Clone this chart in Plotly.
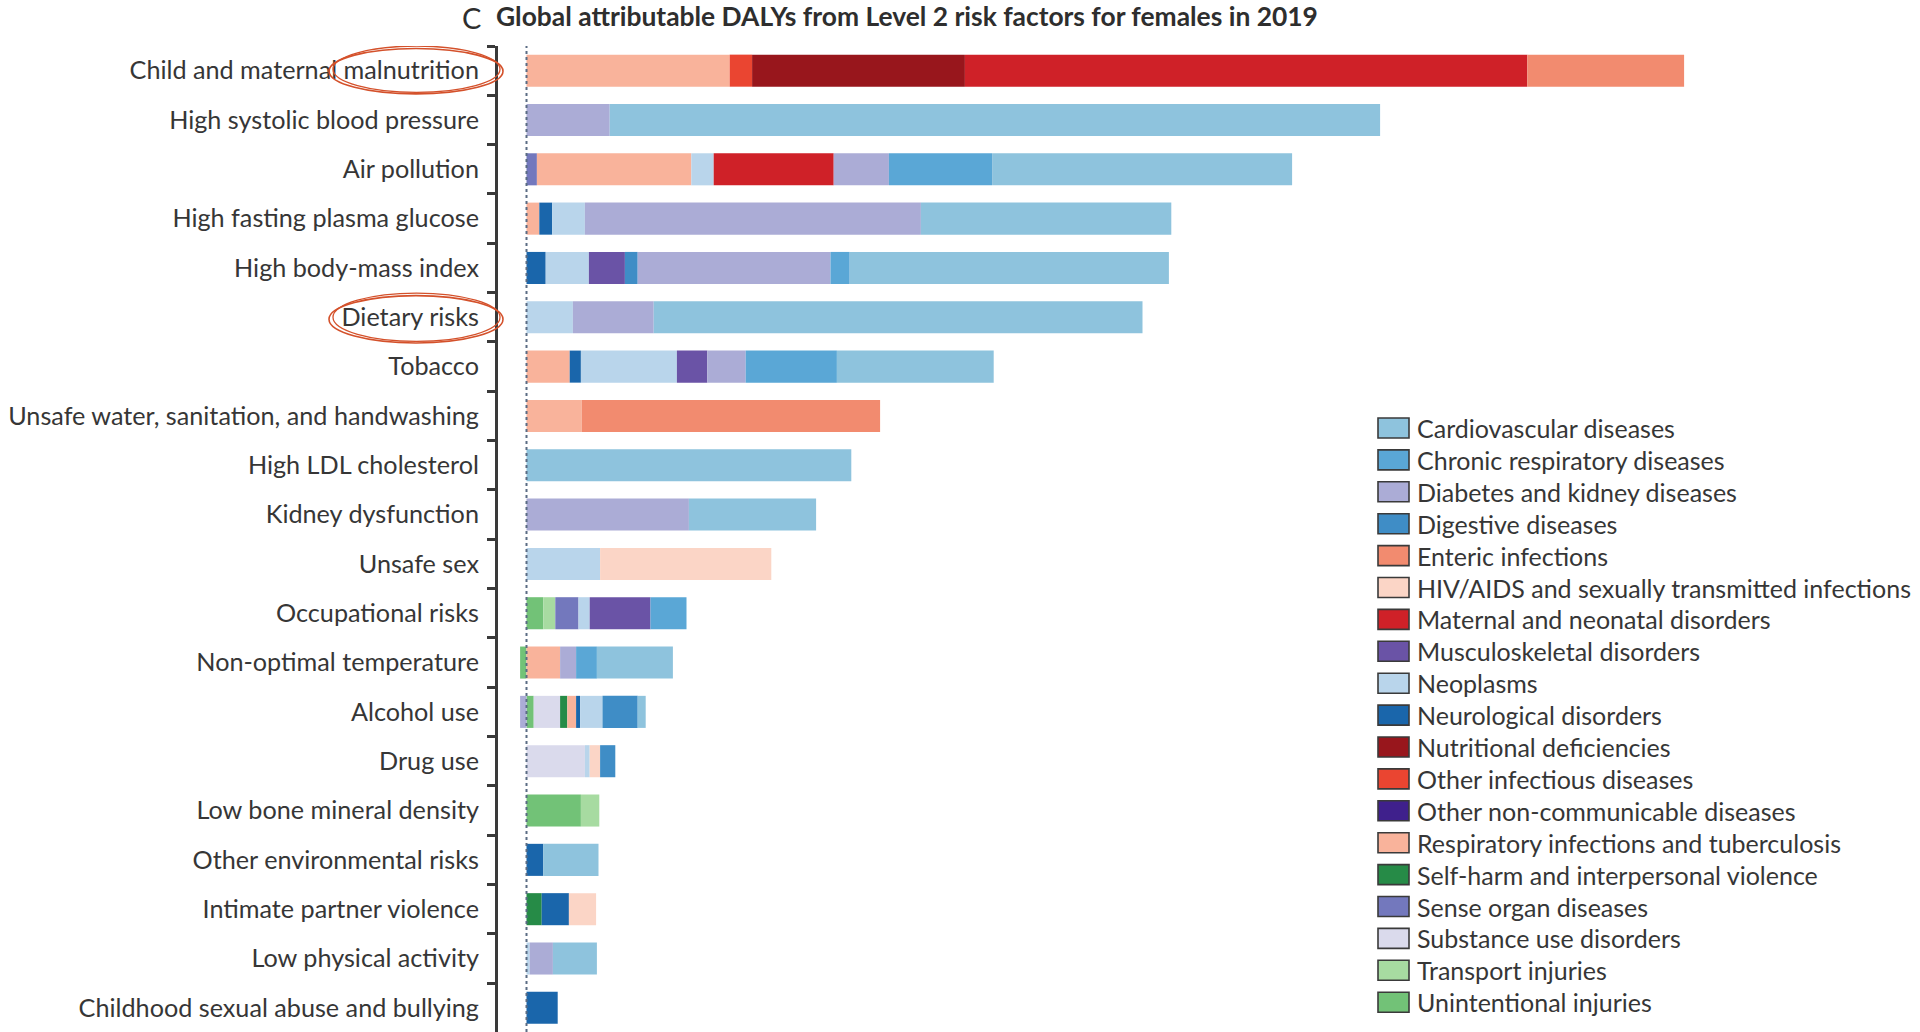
import plotly.graph_objects as go

# ---------------- data (million DALYs) ----------------
risks = [
    "Child and maternal malnutrition",
    "High systolic blood pressure",
    "Air pollution",
    "High fasting plasma glucose",
    "High body-mass index",
    "Dietary risks",
    "Tobacco",
    "Unsafe water, sanitation, and handwashing",
    "High LDL cholesterol",
    "Kidney dysfunction",
    "Unsafe sex",
    "Occupational risks",
    "Non-optimal temperature",
    "Alcohol use",
    "Drug use",
    "Low bone mineral density",
    "Other environmental risks",
    "Intimate partner violence",
    "Low physical activity",
    "Childhood sexual abuse and bullying",
]

cardiovascular = [0, 96.3, 37.5, 31.3, 39.9, 61.1, 19.6, 0, 40.6, 15.9, 0, 0, 9.5, 1.0, 0, 0, 6.9, 0, 5.5, 0]
chronic_respiratory = [0, 0, 12.9, 0, 2.4, 0, 11.4, 0, 0, 0, 0, 4.5, 2.6, 0, 0, 0, 0, 0, 0, 0]
diabetes_kidney = [0, 10.4, 6.9, 42.0, 24.1, 10.1, 4.8, 0, 0, 20.3, 0, 0, 2.0, -0.8, 0, 0, 0, 0, 2.9, 0]
digestive = [0, 0, 0, 0, 1.6, 0, 0, 0, 0, 0, 0, 0, 0, 4.4, 1.9, 0, 0, 0, 0, 0]
enteric = [19.6, 0, 0, 0, 0, 0, 0, 37.3, 0, 0, 0, 0, 0, 0, 0, 0, 0, 0, 0, 0]
hiv_sti = [0, 0, 0, 0, 0, 0, 0, 0, 0, 0, 21.4, 0, 0, 0, 1.3, 0, 0, 3.4, 0, 0]
maternal_neonatal = [70.3, 0, 15.0, 0, 0, 0, 0, 0, 0, 0, 0, 0, 0, 0, 0, 0, 0, 0, 0, 0]
musculoskeletal = [0, 0, 0, 0, 4.5, 0, 3.8, 0, 0, 0, 0, 7.6, 0, 0, 0, 0, 0, 0, 0, 0]
neoplasms = [0, 0, 2.8, 4.1, 5.4, 5.8, 12.0, 0, 0, 0, 9.2, 1.4, 0, 2.8, 0.6, 0, 0, 0, 0.4, 0]
neurological = [0, 0, 0, 1.6, 2.4, 0, 1.4, 0, 0, 0, 0, 0, 0, 0.5, 0, 0, 2.1, 3.4, 0, 3.9]
nutritional = [26.6, 0, 0, 0, 0, 0, 0, 0, 0, 0, 0, 0, 0, 0, 0, 0, 0, 0, 0, 0]
other_infectious = [2.8, 0, 0, 0, 0, 0, 0, 0, 0, 0, 0, 0, 0, 0, 0, 0, 0, 0, 0, 0]
other_ncd = [0, 0, 0, 0, 0, 0, 0, 0, 0, 0, 0, 0, 0, 0, 0, 0, 0, 0, 0, 0]
respiratory_tb = [25.4, 0, 19.3, 1.6, 0, 0, 5.4, 6.9, 0, 0, 0, 0, 4.2, 1.1, 0, 0, 0, 0, 0, 0]
self_harm = [0, 0, 0, 0, 0, 0, 0, 0, 0, 0, 0, 0, 0, 0.9, 0, 0, 0, 1.9, 0, 0]
sense_organ = [0, 0, 1.3, 0, 0, 0, 0, 0, 0, 0, 0, 2.9, 0, 0, 0, 0, 0, 0, 0, 0]
substance_use = [0, 0, 0, 0, 0, 0, 0, 0, 0, 0, 0, 0, 0, 3.3, 7.3, 0, 0, 0, 0, 0]
transport = [0, 0, 0, 0, 0, 0, 0, 0, 0, 0, 0, 1.5, 0, 0, 0, 2.3, 0, 0, 0, 0]
unintentional = [0, 0, 0, 0, 0, 0, 0, 0, 0, 0, 0, 2.1, -0.8, 0.9, 0, 6.8, 0, 0, 0, 0]

cause_names = [
    "Cardiovascular diseases",
    "Chronic respiratory diseases",
    "Diabetes and kidney diseases",
    "Digestive diseases",
    "Enteric infections",
    "HIV/AIDS and sexually transmitted infections",
    "Maternal and neonatal disorders",
    "Musculoskeletal disorders",
    "Neoplasms",
    "Neurological disorders",
    "Nutritional deficiencies",
    "Other infectious diseases",
    "Other non-communicable diseases",
    "Respiratory infections and tuberculosis",
    "Self-harm and interpersonal violence",
    "Sense organ diseases",
    "Substance use disorders",
    "Transport injuries",
    "Unintentional injuries",
]
cause_values = [
    cardiovascular, chronic_respiratory, diabetes_kidney, digestive, enteric,
    hiv_sti, maternal_neonatal, musculoskeletal, neoplasms, neurological,
    nutritional, other_infectious, other_ncd, respiratory_tb, self_harm,
    sense_organ, substance_use, transport, unintentional,
]
cause_colors = [
    "#8EC3DD", "#5AA7D6", "#ABACD6", "#3F8DC6", "#F28B6F",
    "#FBD5C6", "#CF2128", "#6A53A6", "#B9D5EB", "#1A66AB",
    "#98161C", "#EA4531", "#3F208C", "#F9B39B", "#268B47",
    "#7378BD", "#DADAEC", "#A7DBA1", "#72C277",
]

# ---------------- layout geometry (pixels) ----------------
W, H = 1920, 1032
PL, PR, PT, PB = 498, 1900, 46, 1032
PX_PER_UNIT = 8.0
ZERO_PX = 526.5


def px_x(px):
    return (px - PL) / (PR - PL)


def px_y(py):
    return (PB - py) / (PB - PT)


FONT = "Lato"
TXT = "#363636"

fig = go.Figure()
# stacking order: reverse of legend order (Unintentional leftmost ... CVD rightmost)
for name, vals, col in reversed(list(zip(cause_names, cause_values, cause_colors))):
    fig.add_trace(go.Bar(
        y=risks, x=vals, orientation="h", name=name,
        marker=dict(color=col, line=dict(width=0)),
        width=0.65, showlegend=False,
    ))

shapes = []
# dotted zero line
shapes.append(dict(type="line", xref="x", yref="paper", x0=0, x1=0, y0=0, y1=1,
                   line=dict(color="#5B6C84", width=2, dash="dot"), layer="above"))

# red hand-drawn ellipses around highlighted labels
ring = "#D4512B"
for row, (t, b) in ((0, (-0.45, 0.47)), (5, (4.56, 5.52))):
    shapes.append(dict(type="circle", xref="paper", yref="y",
                       x0=px_x(329), x1=px_x(503), y0=t, y1=b,
                       line=dict(color=ring, width=1.6)))
    shapes.append(dict(type="circle", xref="paper", yref="y",
                       x0=px_x(333), x1=px_x(500), y0=t - 0.05, y1=b - 0.03,
                       line=dict(color=ring, width=1.3)))

annotations = []
# legend drawn as swatches + text
LEG_Y0, LEG_DY = 428.0, 31.9
for i, (name, col) in enumerate(zip(cause_names, cause_colors)):
    yc = LEG_Y0 + i * LEG_DY
    shapes.append(dict(type="rect", xref="paper", yref="paper",
                       x0=px_x(1378), x1=px_x(1409), y0=px_y(yc + 10), y1=px_y(yc - 10),
                       fillcolor=col, line=dict(color="#3a3a3a", width=1.6)))
    annotations.append(dict(xref="paper", yref="paper", x=px_x(1415), y=px_y(yc),
                            xanchor="left", yanchor="middle", showarrow=False,
                            text=name, font=dict(family=FONT, size=25, color=TXT)))

# title
annotations.append(dict(xref="paper", yref="paper", x=px_x(460), y=px_y(17),
                        xanchor="left", yanchor="middle", showarrow=False, text="C",
                        font=dict(family=FONT, size=29, color="#2e2e2e")))
annotations.append(dict(xref="paper", yref="paper", x=px_x(494), y=px_y(16),
                        xanchor="left", yanchor="middle", showarrow=False,
                        text="Global attributable DALYs from Level 2 risk factors for females in 2019",
                        font=dict(family=FONT, size=26.4, color="#2e2e2e", weight="bold")))

fig.update_layout(
    width=W, height=H,
    margin=dict(l=PL, r=W - PR, t=PT, b=H - PB, autoexpand=False),
    paper_bgcolor="white", plot_bgcolor="white",
    barmode="relative", bargap=0.35,
    showlegend=False,
    xaxis=dict(range=[(PL - ZERO_PX) / PX_PER_UNIT, (PR - ZERO_PX) / PX_PER_UNIT],
               visible=False, showgrid=False, zeroline=False),
    yaxis=dict(type="category", categoryorder="array", categoryarray=risks,
               range=[19.49, -0.5], autorange=False,
               showline=True, linecolor="#3a3a3a", linewidth=3,
               ticks="outside", tickson="boundaries", ticklen=8, tickwidth=3,
               tickcolor="#3a3a3a", showgrid=False, zeroline=False,
               tickfont=dict(family=FONT, size=25.2, color=TXT),
               ticklabelstandoff=11),
    shapes=shapes, annotations=annotations,
    font=dict(family=FONT, color=TXT),
)

fig.write_html("out.html")
